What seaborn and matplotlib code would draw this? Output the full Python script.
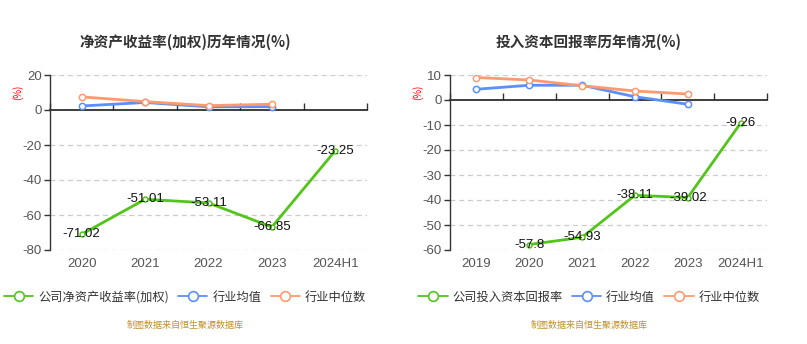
import matplotlib
matplotlib.use('Agg')
import matplotlib.pyplot as plt
from matplotlib.lines import Line2D
import seaborn as sns
import pandas as pd
import numpy as np

roe_years = ['2020', '2021', '2022', '2023', '2024H1']
roe_company = [-71.02, -51.01, -53.11, -66.85, -23.25]
roe_ind_mean = [2.3, 4.3, 1.8, 1.9, np.nan]
roe_ind_median = [7.5, 4.8, 2.5, 3.3, np.nan]

roic_years = ['2019', '2020', '2021', '2022', '2023', '2024H1']
roic_company = [np.nan, -57.8, -54.93, -38.11, -39.02, -9.26]
roic_ind_mean = [4.3, 5.9, 5.9, 1.3, -1.7, np.nan]
roic_ind_median = [9.0, 8.0, 5.7, 3.6, 2.4, np.nan]

sns.set_theme(style='white')
plt.rcParams['font.family'] = ['Noto Sans CJK SC', 'DejaVu Sans']

GREEN = '#52c41a'
BLUE = '#5b8ff9'
ORANGE = '#ff9a6e'
AXIS = '#333333'
TICK = '#555555'
NUMFONT = ['Liberation Sans', 'DejaVu Sans']

W, H = 807, 344
fig = plt.figure(figsize=(W / 100, H / 100), dpi=100)


def draw(rect, years, company, mean, median, ylim, yticks, title, labels, cx):
    ax = fig.add_axes(rect)
    n = len(years)
    df = pd.DataFrame({'pos': np.arange(n), 'company': company,
                       'mean': mean, 'median': median})
    for col, c, z, ms in [('company', GREEN, 3, 3.5), ('mean', BLUE, 4, 4.5),
                          ('median', ORANGE, 5, 4.5)]:
        sub = df[['pos', col]].dropna()
        sns.lineplot(data=sub, x='pos', y=col, ax=ax, color=c, linewidth=2,
                     marker='o', markersize=ms, markerfacecolor='white',
                     markeredgecolor=c, markeredgewidth=1.1, zorder=z)
    for p, v in zip(df['pos'], df['company']):
        if not np.isnan(v):
            ax.text(p, v, f'{v:g}', ha='center', va='center', fontsize=9.5,
                    color='#111111', zorder=6, family=NUMFONT)
    ax.set_xlim(-0.5, n - 0.5)
    ax.set_ylim(*ylim)
    ax.set_yticks(yticks)
    ax.set_yticklabels([str(t) for t in yticks], family=NUMFONT)
    ax.set_xticks(np.arange(n))
    ax.set_xticklabels(years, family=NUMFONT)
    ax.set_xlabel('')
    ax.set_ylabel('')
    for t in yticks:
        if t != 0:
            ax.axhline(t, color='#cccccc', lw=0.9, ls=(0, (4, 3)), zorder=1)
    for s in ['top', 'right', 'bottom']:
        ax.spines[s].set_visible(False)
    ax.spines['left'].set_color(AXIS)
    ax.spines['left'].set_linewidth(1)
    ax.tick_params(axis='y', length=4, width=1, color=AXIS, labelcolor=TICK,
                   labelsize=9.5, pad=2, left=True)
    ax.tick_params(axis='x', length=0, labelcolor=TICK, labelsize=9.5, pad=6)
    loc = (0 - ylim[0]) / (ylim[1] - ylim[0])
    sec = ax.secondary_xaxis(loc)
    sec.set_xticks(np.arange(n + 1) - 0.5)
    sec.set_xticklabels([])
    sec.spines['bottom'].set_color(AXIS)
    sec.spines['bottom'].set_linewidth(1)
    sec.tick_params(axis='x', length=5, width=1, color=AXIS, direction='out')
    fig.text(cx / W, 1 - 42 / H, title, ha='center', va='center',
             fontsize=10.5, color='#333333', fontweight='bold')
    fig.text((rect[0] * W - 32) / W, 1 - 92 / H, '(%)', rotation=90, ha='center',
             va='center', fontsize=7, color='red')
    handles = [Line2D([], [], color=c, lw=1.3, marker='o', markersize=7,
                      markerfacecolor='white', markeredgewidth=1.2)
               for c in (GREEN, BLUE, ORANGE)]
    fig.legend(handles, labels, loc='center', bbox_to_anchor=(cx / W, 1 - 297 / H),
               ncol=3, frameon=False, fontsize=8.8, handlelength=2.4,
               handletextpad=0.4, columnspacing=0.75, labelcolor='#333333')
    fig.text(cx / W, 1 - 325 / H, '制图数据来自恒生聚源数据库', ha='center', va='center',
             fontsize=6.5, color='#c0902a')
    return ax


draw([50 / W, 1 - 250 / H, 317 / W, 175 / H], roe_years, roe_company, roe_ind_mean,
     roe_ind_median, (-80, 20), [20, 0, -20, -40, -60, -80],
     '净资产收益率(加权)历年情况(%)', ['公司净资产收益率(加权)', '行业均值', '行业中位数'], 185)
draw([450 / W, 1 - 250 / H, 317 / W, 175 / H], roic_years, roic_company, roic_ind_mean,
     roic_ind_median, (-60, 10), [10, 0, -10, -20, -30, -40, -50, -60],
     '投入资本回报率历年情况(%)', ['公司投入资本回报率', '行业均值', '行业中位数'], 589)

fig.savefig('out.png', dpi=100)
